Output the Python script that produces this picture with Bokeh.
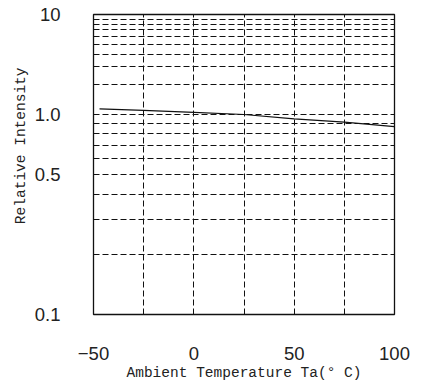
from bokeh.plotting import figure
from bokeh.models import Range1d, FixedTicker, CustomJSTransform, CustomJSTickFormatter, ColumnDataSource, Title
from bokeh.transform import transform
from bokeh.embed import file_html
from bokeh.resources import INLINE
import math

# ---- data ----
temperature = [-47, -25, 0, 25, 50, 75, 100]
relative_intensity = [1.14, 1.10, 1.05, 1.00, 0.95, 0.915, 0.87]

x_tick_values = [-50, 0, 50, 100]
x_grid_values = [-25, 0, 25, 50, 75]
y_tick_values = [0.1, 0.5, 1.0, 10]
y_grid_values = [0.2, 0.3, 0.4, 0.5, 0.6, 0.7, 0.8, 0.9, 1.0, 2, 3, 4, 5, 6, 7, 8, 9]

x_title = "Ambient Temperature Ta(° C)"
y_title = "Relative Intensity"

# chart's y scale: lower decade (0.1-1) drawn twice as tall as upper decade (1-10)
def yscale(v):
    return 2 * math.log10(v / 0.1) if v <= 1 else 2 + math.log10(v)

ytr = CustomJSTransform(
    func="return x <= 1 ? 2*Math.log10(x/0.1) : 2 + Math.log10(x);",
    v_func="""
const out = new Float64Array(xs.length);
for (let i = 0; i < xs.length; i++) {
  const v = xs[i];
  out[i] = v <= 1 ? 2*Math.log10(v/0.1) : 2 + Math.log10(v);
}
return out;
""")

src = ColumnDataSource(dict(t=temperature, r=relative_intensity))

y_lo, y_hi = yscale(0.1), yscale(10)
p = figure(width=433, height=385, output_backend="svg", toolbar_location=None,
           x_range=Range1d(-50, 100), y_range=Range1d(y_lo, y_hi),
           min_border_left=93, min_border_right=39, min_border_top=14, min_border_bottom=71)

p.background_fill_color = "white"
p.border_fill_color = "white"
p.outline_line_color = "#111111"
p.outline_line_width = 1.3

p.line(x="t", y=transform("r", ytr), source=src, line_color="#111111", line_width=1.2)

# grids
p.xgrid.ticker = FixedTicker(ticks=x_grid_values)
p.ygrid.ticker = FixedTicker(ticks=[yscale(v) for v in y_grid_values])
for g in (p.xgrid[0], p.ygrid[0]):
    g.grid_line_color = "#111111"
    g.grid_line_width = 1
    g.grid_line_dash = "6 3"
    g.grid_line_alpha = 1.0

# axes
p.xaxis.ticker = FixedTicker(ticks=x_tick_values)
p.yaxis.ticker = FixedTicker(ticks=[yscale(v) for v in y_tick_values])
p.yaxis.formatter = CustomJSTickFormatter(code="""
const v = tick <= 2 ? 0.1*Math.pow(10, tick/2) : Math.pow(10, tick-2);
return v >= 9.99 ? "10" : v.toFixed(1);
""")

for ax in (p.xaxis[0], p.yaxis[0]):
    ax.axis_line_color = None
    ax.major_tick_line_color = None
    ax.minor_tick_line_color = None
    ax.major_label_text_font = "Liberation Sans"
    ax.major_label_text_font_size = "18.5px"
    ax.major_label_text_color = "#222222"
    ax.axis_label_text_font = "Liberation Mono"
    ax.axis_label_text_font_size = "14.5px"
    ax.axis_label_text_font_style = "normal"
    ax.axis_label_text_color = "#222222"

p.xaxis.axis_label = x_title
p.xaxis.major_label_standoff = 26
p.xaxis.axis_label_standoff = 2
p.yaxis.major_label_standoff = 27

# y title as a side title so it can sit a little above the frame centre
p.add_layout(Title(text=y_title, align="right", offset=53, standoff=5,
                   text_font="Liberation Mono", text_font_size="14.5px",
                   text_font_style="normal", text_color="#222222"), "left")

open("out.html", "w").write(file_html(p, INLINE))
